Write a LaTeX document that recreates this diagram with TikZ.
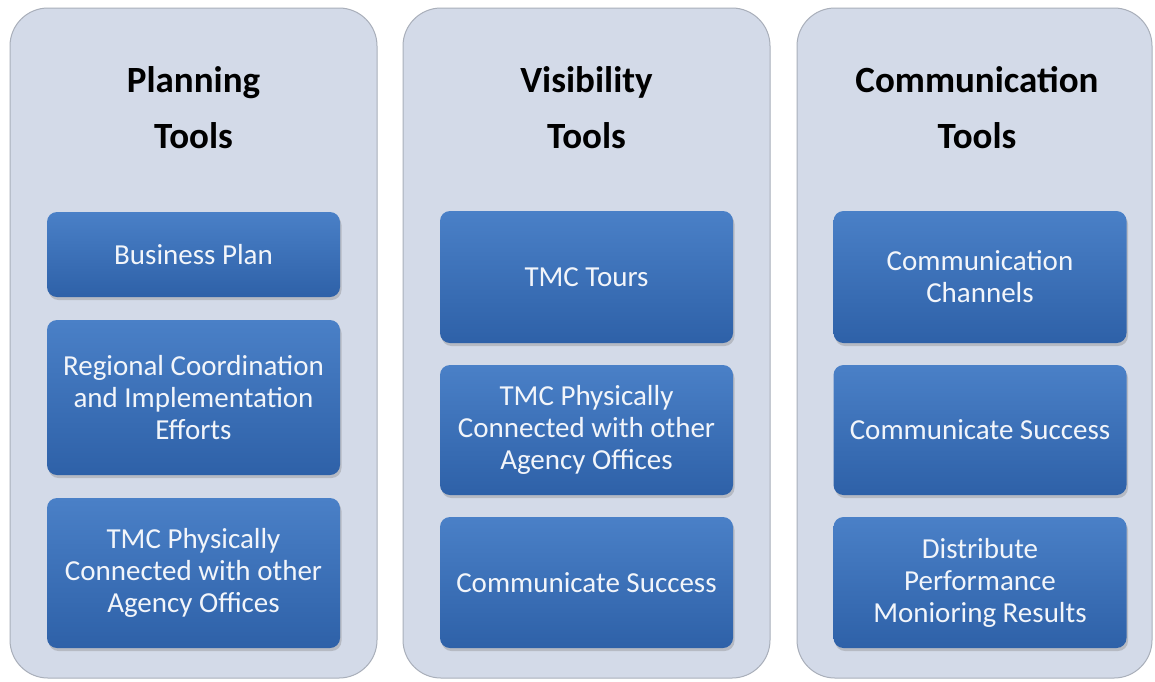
\documentclass[tikz,border=0pt]{standalone}
\usepackage{fontspec}
\setmainfont{Carlito}
\usetikzlibrary{shadows}
\definecolor{panelfill}{HTML}{D3DAE8}
\definecolor{paneledge}{HTML}{A9AFBA}
\definecolor{boxtop}{HTML}{4A80C7}
\definecolor{boxbot}{HTML}{2E61A8}
\definecolor{boxtext}{HTML}{F2F5FA}
\begin{document}
\begin{tikzpicture}[x=1pt,y=-1pt,
  panel/.style={draw=paneledge, line width=1pt, fill=panelfill, rounded corners=38pt, inner sep=0pt},
  toolbox/.style={rounded corners=10pt, top color=boxtop, bottom color=boxbot, draw=none,
    text=boxtext, align=center, font=\fontsize{29}{32}\selectfont, inner sep=0pt,
    minimum width=293pt,
    drop shadow={opacity=0.35, shadow xshift=1.5pt, shadow yshift=-3pt}},
  title/.style={anchor=base, font=\bfseries\fontsize{37}{44}\selectfont, text=black}
]
\useasboundingbox (0,0) rectangle (1155,681);
\fill[white] (0,0) rectangle (1155,681);

% panels
\node[panel, minimum width=367pt, minimum height=670pt] (p1) at (193.5,343) {};
\node[panel, minimum width=367pt, minimum height=670pt] (p2) at (586.5,343) {};
\node[panel, minimum width=355pt, minimum height=670pt] (p3) at (974.5,343) {};

% titles
\node[title] (t1a) at (193.5,92) {Planning};
\node[title] (t1b) at (193.5,148) {Tools};
\node[title] (t2a) at (586.5,92) {Visibility};
\node[title] (t2b) at (586.5,148) {Tools};
\node[title] (t3a) at (977,92) {Communication};
\node[title] (t3b) at (977,148) {Tools};

% planning boxes
\node[toolbox, minimum height=85pt] (a1) at (193.5,254.5) {Business Plan};
\node[toolbox, minimum height=155pt] (a2) at (193.5,397.5) {Regional Coordination\\and Implementation\\Efforts};
\node[toolbox, minimum height=150pt] (a3) at (193.5,573) {TMC Physically\\Connected with other\\Agency Offices};

% visibility boxes
\node[toolbox, minimum height=132pt] (b1) at (586.5,277) {TMC Tours};
\node[toolbox, minimum height=130pt] (b2) at (586.5,430) {TMC Physically\\Connected with other\\Agency Offices};
\node[toolbox, minimum height=131pt] (b3) at (586.5,582.5) {Communicate Success};

% communication boxes
\node[toolbox, minimum height=132pt] (c1) at (980,277) {Communication\\Channels};
\node[toolbox, minimum height=130pt] (c2) at (980,430) {Communicate Success};
\node[toolbox, minimum height=131pt] (c3) at (980,582.5) {Distribute\\Performance\\Monioring Results};
\end{tikzpicture}
\end{document}
